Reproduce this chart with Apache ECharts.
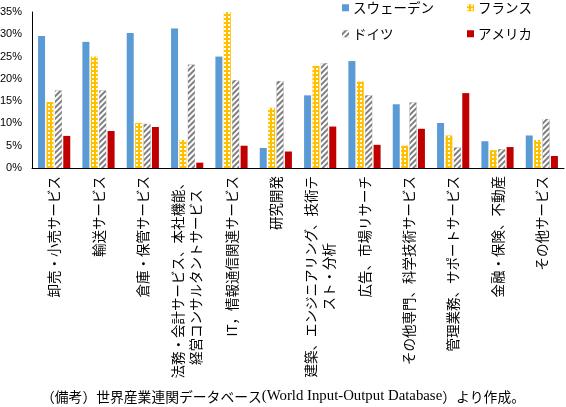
<!DOCTYPE html>
<html lang="ja">
  <head>
    <meta charset="UTF-8" />
    <title>サービス業の比率</title>
    <style>
      * {
        padding: 0;
        margin: 0;
      }
      #main {
        width: 566px;
        height: 407px;
        background: #fff;
      }
    </style>
    <script src="https://cdn.jsdelivr.net/npm/echarts@6/dist/echarts.min.js"></script>
  </head>
  <body>
    <div id="main"></div>
    <script type="text/javascript">
      // カテゴリ（改行は原図どおり）
      const categories = [
        '卸売・小売サービス',
        '輸送サービス',
        '倉庫・保管サービス',
        '法務・会計サービス、本社機能、\n経営コンサルタントサービス',
        'IT，情報通信関連サービス',
        '研究開発',
        '建築、エンジニアリング、技術テ\nスト・分析',
        '広告、市場リサーチ',
        'その他専門、科学技術サービス',
        '管理業務、サポートサービス',
        '金融・保険、不動産',
        'その他サービス'
      ]
      const yTicks = [0, 5, 10, 15, 20, 25, 30, 35]

      // 各国の値（%）
      const sweden = [29.6, 28.3, 30.3, 31.3, 25.0, 4.5, 16.3, 24.0, 14.3, 10.1, 6.0, 7.3]
      const france = [14.8, 25.0, 10.1, 6.3, 35.0, 13.5, 22.9, 19.4, 5.0, 7.3, 4.0, 6.3]
      const germany = [17.4, 17.4, 9.9, 23.2, 19.7, 19.5, 23.5, 16.3, 14.7, 4.6, 4.2, 11.0]
      const usa = [7.2, 8.3, 9.2, 1.2, 5.0, 3.7, 9.3, 5.2, 8.8, 16.8, 4.7, 2.7]

      const chart = echarts.init(document.getElementById('main'))

      const jpFont = "'Noto Sans CJK JP', sans-serif"

      // ラベルの各行を中央揃えにする
      function labelFmt(v) {
        return v
          .split('\n')
          .map(function (s) {
            return '{c|' + s + '}'
          })
          .join('\n')
      }

      const dotDecal = {
        symbol: 'rect',
        symbolSize: 1,
        color: 'rgba(255,255,255,0.95)',
        dashArrayX: [1.5, 1.5],
        dashArrayY: [1.5, 1.5]
      }
      const stripeDecal = {
        symbol: 'rect',
        symbolSize: 1,
        color: '#ffffff',
        dashArrayX: [1, 0],
        dashArrayY: [2, 2],
        rotation: -Math.PI / 4
      }

      function bar(name, data, color, decal) {
        const s = {
          name: name,
          type: 'bar',
          data: data,
          barWidth: 7,
          barGap: '20%',
          itemStyle: { color: color }
        }
        if (decal) s.itemStyle.decal = decal
        return s
      }

      // 凡例は 2×2 に並べる
      function legendAt(name, left, top) {
        return {
          left: left,
          top: top,
          data: [name],
          itemWidth: 7,
          itemHeight: 7,
          icon: 'rect',
          textStyle: {
            fontFamily: jpFont,
            fontSize: 13.5,
            color: '#000',
            padding: [0, 0, 0, -1]
          }
        }
      }

      const option = {
        backgroundColor: '#fff',
        animation: false,
        title: {
          text:
            '{j|（備考）世界産業連関データベース}{l|(World Input-Output Database}{j|）より作成。}',
          left: 'center',
          top: 384,
          textStyle: {
            fontWeight: 'normal',
            rich: {
              j: {
                fontFamily: jpFont,
                fontSize: 13.8,
                fontWeight: 'normal',
                color: '#000'
              },
              l: {
                fontFamily: "'Liberation Serif', serif",
                fontSize: 14.8,
                fontWeight: 'normal',
                color: '#000'
              }
            }
          }
        },
        legend: [
          legendAt('スウェーデン', 337, -4),
          legendAt('フランス', 462, -4),
          legendAt('ドイツ', 337, 22),
          legendAt('アメリカ', 462, 22)
        ],
        grid: {
          left: 32,
          right: 2,
          top: 12,
          bottom: 239,
          containLabel: false,
          outerBoundsMode: 'none'
        },
        xAxis: {
          type: 'category',
          data: categories,
          axisLine: { lineStyle: { color: '#000', width: 1 } },
          axisTick: { show: false },
          axisLabel: {
            interval: 0,
            rotate: 90,
            margin: 8,
            color: '#000',
            fontFamily: jpFont,
            fontSize: 13.5,
            lineHeight: 18,
            formatter: labelFmt,
            rich: {
              c: {
                align: 'center',
                fontFamily: jpFont,
                fontSize: 13.5,
                lineHeight: 18,
                color: '#000'
              }
            }
          }
        },
        yAxis: {
          type: 'value',
          min: yTicks[0],
          max: yTicks[yTicks.length - 1],
          interval: 5,
          axisLine: { show: true, lineStyle: { color: '#000', width: 1 } },
          axisTick: { show: false },
          splitLine: { show: false },
          axisLabel: {
            margin: 10,
            color: '#000',
            fontFamily: "'Liberation Sans', Arial, sans-serif",
            fontSize: 11,
            formatter: '{value}%'
          }
        },
        series: [
          bar('スウェーデン', sweden, '#5b9bd5'),
          bar('フランス', france, '#ffc000', dotDecal),
          bar('ドイツ', germany, '#7f7f7f', stripeDecal),
          bar('アメリカ', usa, '#c00000')
        ]
      }

      chart.setOption(option)
    </script>
  </body>
</html>
